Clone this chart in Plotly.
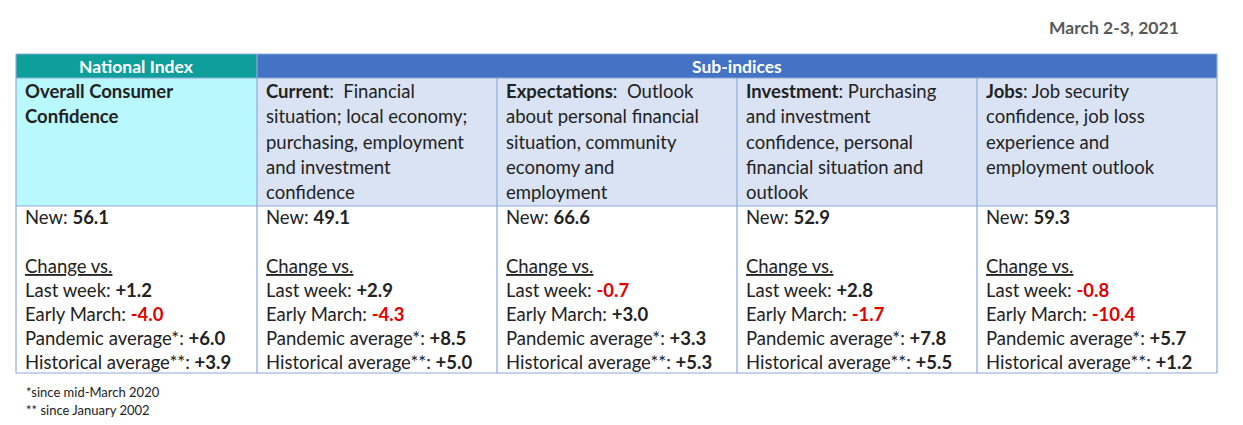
import plotly.graph_objects as go

date_label = "March 2-3, 2021"
group_headers = ["National Index", "Sub-indices"]
index_names = ["Overall Consumer Confidence", "Current", "Expectations", "Investment", "Jobs"]
desc_lines = [
    ["<b>Overall Consumer</b>", "<b>Confidence</b>"],
    ["<b>Current</b>:  Financial", "situation; local economy;", "purchasing, employment", "and investment", "confidence"],
    ["<b>Expectations</b>:  Outlook", "about personal financial", "situation, community", "economy and", "employment"],
    ["<b>Investment</b>: Purchasing", "and investment", "confidence, personal", "financial situation and", "outlook"],
    ["<b>Jobs</b>: Job security", "confidence, job loss", "experience and", "employment outlook"],
]
new_vals = [56.1, 49.1, 66.6, 52.9, 59.3]
last_week = [1.2, 2.9, -0.7, 2.8, -0.8]
early_march = [-4.0, -4.3, 3.0, -1.7, -10.4]
pandemic_avg = [6.0, 8.5, 3.3, 7.8, 5.7]
historical_avg = [3.9, 5.0, 5.3, 5.5, 1.2]
footnotes = ["*since mid-March 2020", "** since January 2002"]

W, H = 1243, 425
OFF = 8
FONT = "Lato"
FS = 18.5
cols = [16, 257, 497, 737, 977, 1217]
y_head, y_desc, y_vals, y_end = 54, 78, 206, 373
border = "#8ea9db"

fig = go.Figure()
shapes, ann = [], []

def rect(x0, y0, x1, y1, fill):
    shapes.append(dict(type="rect", x0=x0, x1=x1, y0=y0, y1=y1, fillcolor=fill,
                       line=dict(width=0), layer="below"))

def line(x0, y0, x1, y1):
    shapes.append(dict(type="line", x0=x0, x1=x1, y0=y0, y1=y1, line=dict(color=border, width=1.2)))

rect(cols[0], y_head, cols[1], y_desc, "#0e9f9a")
rect(cols[1], y_head, cols[5], y_desc, "#4472c4")
rect(cols[0], y_desc, cols[1], y_vals, "#b9f8fc")
rect(cols[1], y_desc, cols[5], y_vals, "#dae3f3")
for y in [y_head, y_desc, y_vals, y_end]:
    line(cols[0], y, cols[5], y)
for i, x in enumerate(cols):
    line(x, y_head if i in (0, 1, 5) else y_desc, x, y_end)

def txt(x, y, s, size=FS, color="#222", anchor="left"):
    ann.append(dict(x=x, y=y, text=s, showarrow=False, xanchor=anchor, yanchor="middle",
                    font=dict(family=FONT, size=size, color=color)))

txt(1181, 27, "<b>" + date_label + "</b>", size=17.5, color="#595959", anchor="right")
txt((cols[0] + cols[1]) / 2, 66, "<b>" + group_headers[0] + "</b>", color="white", anchor="center", size=17.5)
txt((cols[1] + cols[5]) / 2, 66, "<b>" + group_headers[1] + "</b>", color="white", anchor="center", size=17.5)

def fmt(v):
    s = f"{v:+.1f}"
    if v < 0:
        return f"<b><span style='color:#e00000'>{s}</span></b>"
    return f"<b>{s}</b>"

for i in range(5):
    x = cols[i] + 7
    for j, l in enumerate(desc_lines[i]):
        txt(x, 91 + j * 25.3, l)
    txt(x, 217, f"New: <b>{new_vals[i]}</b>")
    txt(x, 266, "<u>Change vs.</u>")
    txt(x, 290, "Last week: " + fmt(last_week[i]))
    txt(x, 314, "Early March: " + fmt(early_march[i]))
    txt(x, 338, "Pandemic average*: " + fmt(pandemic_avg[i]))
    txt(x, 362, "Historical average**: " + fmt(historical_avg[i]))

for j, f in enumerate(footnotes):
    txt(24, 392 + j * 18, f, size=13)

fig.update_layout(width=W - 2 * OFF, height=H - 2 * OFF, margin=dict(l=0, r=0, t=0, b=0),
                  paper_bgcolor="white", plot_bgcolor="white",
                  xaxis=dict(range=[OFF, W - OFF], visible=False, fixedrange=True),
                  yaxis=dict(range=[H - OFF, OFF], visible=False, fixedrange=True),
                  shapes=shapes, annotations=ann, showlegend=False)
fig.write_html("out.html", config={"displayModeBar": False})
